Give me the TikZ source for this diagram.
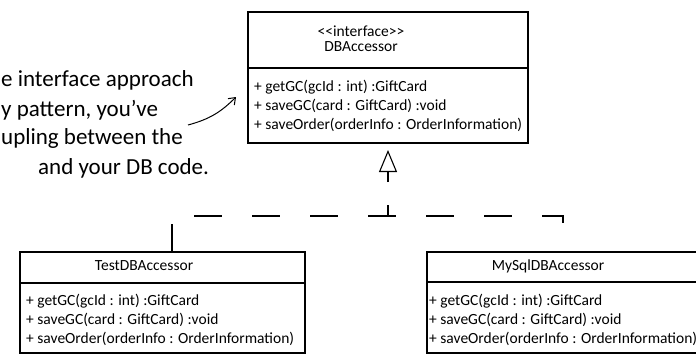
\documentclass[tikz,border=0pt]{standalone}
\usepackage{fontspec}
\setmainfont{Carlito}
\usetikzlibrary{arrows.meta,positioning}
\newcommand{\boxfont}{\fontsize{15.5}{19}\selectfont}
\newcommand{\notefont}{\fontsize{23}{28}\selectfont}

\begin{document}
\begin{tikzpicture}[x=1pt, y=-1pt, every node/.style={font=\boxfont, inner sep=0pt},
  umlbox/.style={draw, line width=1.2pt, anchor=north west, inner sep=0pt, outer sep=0pt},
  divider/.style={line width=1.1pt}, ops/.style={anchor=north west, align=left},
  note/.style={font=\notefont, anchor=base west},
  realize/.style={line width=1.1pt, dash pattern=on 28pt off 30pt},
  notearr/.style={-{Straight Barb[length=6pt, width=9pt]}, line width=1pt}]
\path[use as bounding box, clip] (0,0) rectangle (696,356);
% interface
\node[umlbox, minimum width=280pt, minimum height=131pt] (iface) at (248,12) {};
\draw[divider] ([yshift=-56pt]iface.north west) -- ([yshift=-56pt]iface.north east);
\node (ifacetag) at (361,31) {{<}{<}interface{>}{>}};
\node[below=5pt of ifacetag] (ifacename) {DBAccessor};
\node[ops] (ifaceops) at (254,80) {+ getGC(gcId : int) :GiftCard\\+ saveGC(card : GiftCard) :void\\+ saveOrder(orderInfo : OrderInformation)};
% implementations
\node[umlbox, minimum width=285pt, minimum height=101pt] (testacc) at (20,252) {};
\draw[divider] ([yshift=-31pt]testacc.north west) -- ([yshift=-31pt]testacc.north east);
\node (testname) at (144,266) {TestDBAccessor};
\node[ops] (testops) at (26,294) {+ getGC(gcId : int) :GiftCard\\+ saveGC(card : GiftCard) :void\\+ saveOrder(orderInfo : OrderInformation)};
\node[umlbox, minimum width=300pt, minimum height=101pt] (mysqlacc) at (427,252) {};
\draw[divider] ([yshift=-30pt]mysqlacc.north west) -- ([yshift=-30pt]mysqlacc.north east);
\node (mysqlname) at (548,266) {MySqlDBAccessor};
\node[ops] (mysqlops) at (429,294) {+ getGC(gcId : int) :GiftCard\\+ saveGC(card : GiftCard) :void\\+ saveOrder(orderInfo : OrderInformation)};
% realization
\coordinate (bus) at (388,216);
\draw[realize] ([xshift=9.5pt]testacc.north) |- (bus) -| ([xshift=-14pt]mysqlacc.north);
\draw[realize, dash pattern=on 11pt off 23pt, -{Triangle[open, length=22pt, width=18pt, line width=1.1pt]}, shorten >=7pt] (bus) -- (iface.south);
% note
\node[note] (note1) at (1,86) {e interface approach};
\node[note] (note2) at (1,116) {y pattern, you've};
\node[note] (note3) at (1,144) {upling between the};
\node[note] (note4) at (38,174) {and your DB code.};
\coordinate (notetail) at (188,125);
\coordinate (notetip) at (236,97);
\draw[notearr] (notetail) to[out=15, in=225] (notetip);
\end{tikzpicture}
\end{document}
